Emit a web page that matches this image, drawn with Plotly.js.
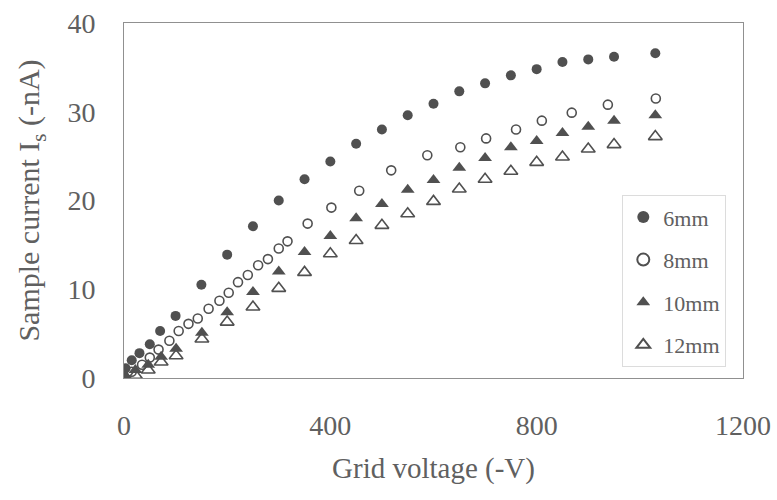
<!DOCTYPE html>
<html>
<head>
<meta charset="utf-8">
<script src="https://cdn.plot.ly/plotly-3.0.1.min.js"></script>
<style>html,body{margin:0;padding:0;background:#fff;}#chart{width:777px;height:500px;}</style>
</head>
<body>
<div id="chart"></div>
<script>
// Grid voltage (-V) and sample current (-nA) for each grid distance
var v6  = [3, 15, 30, 50, 70, 100, 150, 200, 250, 300, 350, 400, 450, 500, 550, 600, 650, 700, 750, 800, 850, 900, 950, 1030];
var i6  = [1.1, 2.0, 2.8, 3.8, 5.3, 7.0, 10.5, 13.9, 17.1, 20.0, 22.4, 24.4, 26.4, 28.0, 29.6, 30.9, 32.3, 33.2, 34.1, 34.8, 35.6, 35.9, 36.2, 36.6];

var v8  = [15, 35, 50, 67, 88, 106, 125, 143, 164, 185, 203, 221, 240, 260, 279, 300, 317, 356, 402, 456, 518, 588, 652, 702, 760, 810, 868, 938, 1031];
var i8  = [0.7, 1.5, 2.3, 3.2, 4.2, 5.3, 6.1, 6.7, 7.8, 8.7, 9.6, 10.8, 11.6, 12.7, 13.4, 14.6, 15.4, 17.4, 19.2, 21.1, 23.4, 25.1, 26.0, 27.0, 28.0, 29.0, 29.9, 30.8, 31.5];

var v10 = [2, 22, 47, 72, 101, 151, 200, 250, 300, 350, 400, 450, 500, 550, 600, 650, 700, 750, 800, 850, 900, 950, 1030];
var i10 = [0.3, 0.9, 1.5, 2.4, 3.3, 5.1, 7.4, 9.7, 12.0, 14.2, 16.0, 18.0, 19.6, 21.2, 22.3, 23.7, 24.8, 26.0, 26.7, 27.6, 28.3, 29.0, 29.6];

var v12 = [2, 22, 47, 72, 101, 151, 200, 250, 300, 350, 400, 450, 500, 550, 600, 650, 700, 750, 800, 850, 900, 950, 1030];
var i12 = [0.0, 0.3, 0.9, 1.8, 2.5, 4.4, 6.3, 8.0, 10.1, 11.9, 14.0, 15.5, 17.2, 18.5, 19.9, 21.3, 22.4, 23.3, 24.3, 24.9, 25.8, 26.3, 27.2];

var seriesNames = ['6mm', '8mm', '10mm', '12mm'];
var xTicks = [0, 400, 800, 1200];
var yTicks = [0, 10, 20, 30, 40];

var dark = '#505050';
var font = 'Liberation Serif, Times New Roman, serif';

var traces = [
  {x: v6, y: i6, name: seriesNames[0], legendgroup: 'a', type: 'scatter', mode: 'markers',
   marker: {symbol: 'circle', size: 10, color: dark}},
  {x: v8, y: i8, name: seriesNames[1], legendgroup: 'b', type: 'scatter', mode: 'markers',
   marker: {symbol: 'circle-open', size: 9, color: dark, line: {width: 1.6, color: dark}}},
  {x: v10, y: i10, name: seriesNames[2], legendgroup: 'c', type: 'scatter', mode: 'markers',
   marker: {symbol: 'triangle-up', size: 12, color: dark}},
  {x: v12, y: i12, name: seriesNames[3], legendgroup: 'd', type: 'scatter', mode: 'markers',
   marker: {symbol: 'triangle-up-open', size: 12, color: dark, line: {width: 1.6, color: dark}}}
];

var layout = {
  width: 777, height: 500,
  margin: {l: 124, r: 34, t: 23, b: 122},
  paper_bgcolor: '#fff', plot_bgcolor: '#fff',
  font: {family: font, color: '#606060'},
  showlegend: true,
  legend: {
    x: 0.805, y: 0.515, xanchor: 'left', yanchor: 'top',
    bgcolor: '#fff', bordercolor: '#dcdcdc', borderwidth: 1,
    font: {family: font, size: 22, color: '#606060'},
    tracegroupgap: 11, itemsizing: 'constant'
  },
  xaxis: {
    range: [0, 1200], tickvals: xTicks, ticktext: xTicks.map(String),
    showgrid: false, zeroline: false, showline: true, linecolor: '#909090', linewidth: 1, mirror: true,
    ticks: '', ticklabelstandoff: 22,
    tickfont: {family: font, size: 28, color: '#606060'},
    title: {text: 'Grid voltage (-V)', font: {family: font, size: 29, color: '#606060'}, standoff: 18}
  },
  yaxis: {
    range: [0, 40], tickvals: yTicks, ticktext: yTicks.map(String),
    showgrid: false, zeroline: false, showline: true, linecolor: '#909090', linewidth: 1, mirror: true,
    ticks: '', ticklabelstandoff: 22,
    tickfont: {family: font, size: 28, color: '#606060'},
    title: {text: 'Sample current I<sub>s</sub> (-nA)', font: {family: font, size: 30, color: '#606060'}, standoff: 18}
  }
};

Plotly.newPlot('chart', traces, layout, {displayModeBar: false, staticPlot: true});
</script>
</body>
</html>
